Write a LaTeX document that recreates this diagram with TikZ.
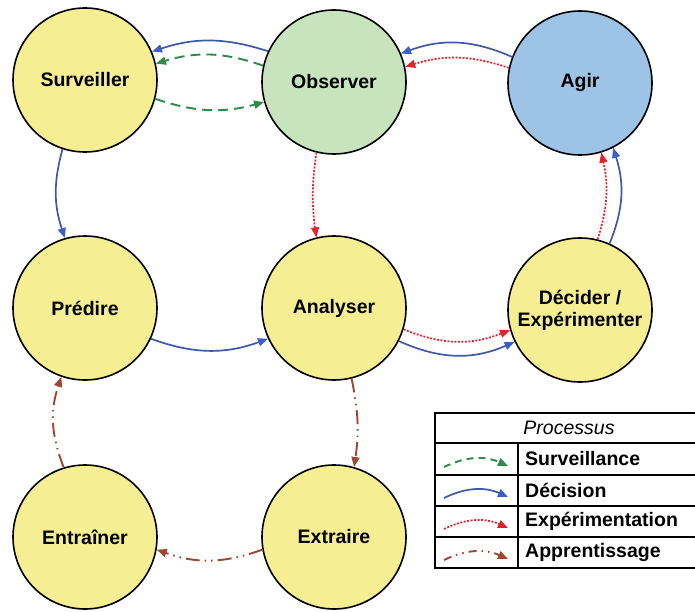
\documentclass[tikz,border=0pt]{standalone}
\usepackage{fontspec}
\setmainfont{Liberation Sans}
\usetikzlibrary{arrows.meta}
\definecolor{cyel}{HTML}{F5EE92}
\definecolor{cgrn}{HTML}{C8E4BE}
\definecolor{cblu}{HTML}{9DC3E6}
\definecolor{lgreen}{HTML}{2E8B4A}
\definecolor{lblue}{HTML}{3C5AA8}
\definecolor{tblue}{HTML}{3A5FCD}
\definecolor{lred}{HTML}{E8202A}
\definecolor{lbrown}{HTML}{A0452E}
\begin{document}
\begin{tikzpicture}[x=1pt,y=-1pt,
  state/.style={circle,draw=black,line width=1.6pt,minimum size=144pt,inner sep=0pt,
    font=\fontsize{19.5}{22}\selectfont\bfseries,align=center,fill=cyel},
  tipA/.style={-{Triangle[length=10pt,width=8pt]}},
  surv/.style={draw=lgreen,line width=1.9pt,dash pattern=on 10pt off 6pt,tipA},
  deci/.style={draw=lblue,line width=1.7pt,-{Triangle[length=10pt,width=8pt,color=tblue]}},
  expe/.style={draw=lred,line width=1.7pt,dash pattern=on 2pt off 1.5pt,tipA},
  appr/.style={draw=lbrown,line width=1.9pt,dash pattern=on 14pt off 5pt on 1.5pt off 5pt on 1.5pt off 5pt,tipA},
  legtxt/.style={anchor=west,font=\fontsize{19.5}{22}\selectfont\bfseries,inner sep=0pt},
  grid/.style={draw=black,line width=1.3pt}
]
\useasboundingbox (0,0) rectangle (695,612);

\node[state] (S) at (85,80) {Surveiller};
\node[state,fill=cgrn] (O) at (334,82) {Observer};
\node[state,fill=cblu] (A) at (580,83) {Agir};
\node[state] (P) at (85,308) {Prédire};
\node[state] (N) at (334,308) {Analyser};
\node[state] (D) at (580,310) {Décider /\\Expérimenter};
\node[state] (E) at (85,537) {Entraîner};
\node[state] (X) at (334,537) {Extraire};

% Surveillance
\draw[surv] (O.167) to[bend right=18] (S.13);
\draw[surv] (S.-15) to[bend right=17] (O.196);
% Decision
\draw[deci] (O.155) to[bend right=18] (S.23);
\draw[deci] (A.159) to[bend right=22] (O.23);
\draw[deci] (S.252) to[bend right=17] (P.106);
\draw[deci] (P.-25) to[bend right=20] (N.205);
\draw[deci] (N.-27) to[bend right=24] (D.206);
\draw[deci] (D.66) to[bend right=20] (A.-63);
% Experimentation
\draw[expe] (A.168) to[bend right=18] (O.12);
\draw[expe] (O.256) to[bend right=8] (N.104);
\draw[expe] (N.-17) to[bend right=22] (D.196);
\draw[expe] (D.76) to[bend right=15] (A.-73);
% Apprentissage
\draw[appr] (N.-76) to[bend left=10] (X.74);
\draw[appr] (X.190) to[bend left=20] (E.-10);
\draw[appr] (E.107) to[bend left=20] (P.251);

% Legend
\draw[grid] (700,413) -- (435,413) -- (435,568) -- (700,568);
\draw[grid] (435,443) -- (700,443);
\draw[grid] (435,475) -- (700,475);
\draw[grid] (435,506) -- (700,506);
\draw[grid] (435,537) -- (700,537);
\draw[grid] (518,443) -- (518,568);
\node[font=\fontsize{19.5}{22}\selectfont\itshape,inner sep=0pt] (ltitle) at (569,428) {Processus};
\node[legtxt] (l1) at (525,459) {Surveillance};
\node[legtxt] (l2) at (525,490.5) {Décision};
\node[legtxt] (l3) at (525,521.5) {Expérimentation};
\node[legtxt] (l4) at (525,552.5) {Apprentissage};
\coordinate (s1) at (444,467); \coordinate (e1) at (508,466);
\coordinate (s2) at (444,498); \coordinate (e2) at (508,497);
\coordinate (s3) at (444,529); \coordinate (e3) at (508,528);
\coordinate (s4) at (444,560); \coordinate (e4) at (508,559);
\draw[surv,dash pattern=on 7pt off 5pt] (s1) to[bend left=25] (e1);
\draw[deci] (s2) to[bend left=25] (e2);
\draw[expe] (s3) to[bend left=25] (e3);
\draw[appr,dash pattern=on 8pt off 5pt on 1.5pt off 5pt on 1.5pt off 5pt] (s4) to[bend left=25] (e4);
\end{tikzpicture}
\end{document}
